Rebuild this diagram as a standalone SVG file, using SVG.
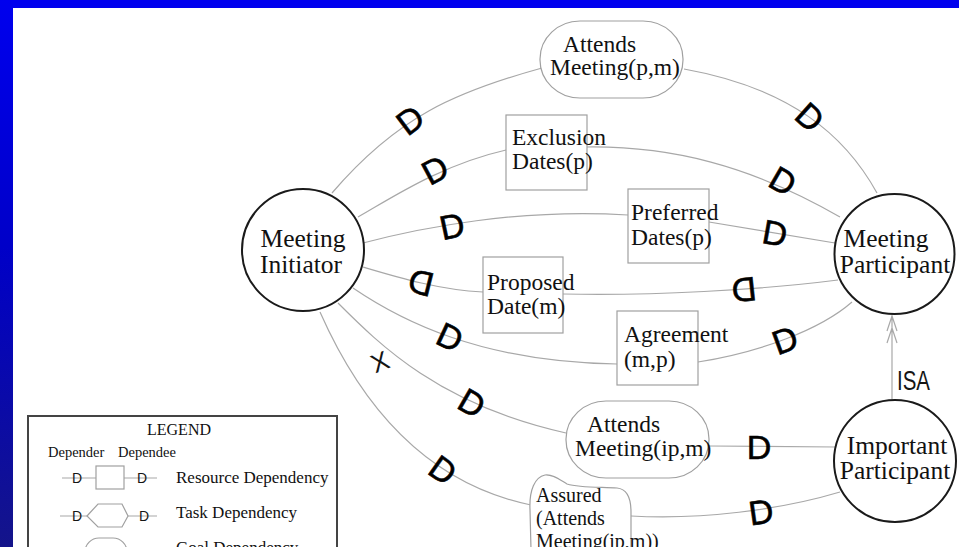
<svg xmlns="http://www.w3.org/2000/svg" width="959" height="547" viewBox="0 0 959 547">
  <defs>
    <linearGradient id="sideBand" x1="0" y1="0" x2="0" y2="1">
      <stop offset="0" stop-color="#0000ee"/>
      <stop offset="0.45" stop-color="#0000c8"/>
      <stop offset="1" stop-color="#14148a"/>
    </linearGradient>
    <style>
      .actor { fill: #ffffff; stroke: #1a1a1a; stroke-width: 2; }
      .elem { fill: #ffffff; stroke: #a0a0a0; stroke-width: 1.2; }
      .link { fill: none; stroke: #a8a8a8; stroke-width: 1.2; }
      .lbl { font-family: "Liberation Serif", "Times New Roman", serif; fill: #111111; }
      .dmark { font-family: "Liberation Sans", Arial, sans-serif; font-size: 34px; fill: #000000; stroke: #000000; stroke-width: 0.6; text-anchor: middle; }
      .sans { font-family: "Liberation Sans", Arial, sans-serif; fill: #151515; }
    </style>
  </defs>

  <!-- page background and frame -->
  <rect x="0" y="0" width="959" height="547" fill="#ffffff"/>
  <rect x="0" y="0" width="959" height="8" fill="#0000ee"/>
  <rect x="0" y="0" width="13" height="547" fill="url(#sideBand)"/>

  <!-- dependency links -->
  <g id="connectors">
    <path class="link" d="M332,193 C397,117 455,92 542,68"/>
    <path class="link" d="M684,69 C790,88 845,135 877,193"/>
    <path class="link" d="M358,217 C390,199 440,165 506,150"/>
    <path class="link" d="M587,147 C670,146 750,165 840,217"/>
    <path class="link" d="M363,243 C420,228 520,208 628,215"/>
    <path class="link" d="M709,222 L835,243"/>
    <path class="link" d="M363,267 C400,278 440,290 483,292"/>
    <path class="link" d="M563,294 C650,296 760,290 838,280"/>
    <path class="link" d="M353,288 C400,320 480,362 617,364"/>
    <path class="link" d="M698,362 C760,352 820,330 852,302"/>
    <path class="link" d="M338,303 C380,345 440,405 566,433"/>
    <path class="link" d="M709,446 L836,447"/>
    <path class="link" d="M320,312 C350,380 410,480 531,505"/>
    <path class="link" d="M631,516 C700,520 780,510 840,492"/>
    <!-- ISA link with open double head -->
    <path class="link" d="M892,399 L892,316 M887,331 L892,316 L897,331 M887,343 L892,328 L897,343"/>

    <!-- dependency markers -->
    <text class="dmark" transform="translate(410,120) rotate(-37)" y="12">D</text>
    <text class="dmark" transform="translate(810,117) rotate(42)" y="12">D</text>
    <text class="dmark" transform="translate(435,170) rotate(-28)" y="12">D</text>
    <text class="dmark" transform="translate(783,181) rotate(30)" y="12">D</text>
    <text class="dmark" transform="translate(452,226) rotate(-12)" y="12">D</text>
    <text class="dmark" transform="translate(775,233) rotate(10)" y="12">D</text>
    <text class="dmark" transform="translate(421,283) rotate(194)" y="12">D</text>
    <text class="dmark" transform="translate(744,290) rotate(174)" y="12">D</text>
    <text class="dmark" transform="translate(450,337) rotate(25)" y="12">D</text>
    <text class="dmark" transform="translate(785,340) rotate(-20)" y="12">D</text>
    <text class="dmark" transform="translate(472,403) rotate(30)" y="12">D</text>
    <text class="dmark" transform="translate(759,447) rotate(0)" y="12">D</text>
    <text class="dmark" transform="translate(443,470) rotate(35)" y="12">D</text>
    <text class="dmark" transform="translate(761,512) rotate(-8)" y="12">D</text>

    <text class="sans" font-size="26" text-anchor="middle" transform="translate(380,362) rotate(-22)" y="9">X</text>
    <text class="sans" font-size="28" x="897" y="390" textLength="33" lengthAdjust="spacingAndGlyphs">ISA</text>
  </g>

  <!-- actors -->
  <g id="meeting-initiator">
    <circle class="actor" cx="303" cy="250" r="61"/>
    <text class="lbl" font-size="25.5" x="303" y="247" text-anchor="middle">Meeting</text>
    <text class="lbl" font-size="25.5" x="301" y="273" text-anchor="middle">Initiator</text>
  </g>
  <g id="meeting-participant">
    <circle class="actor" cx="894.5" cy="254" r="60"/>
    <text class="lbl" font-size="25.5" x="886" y="247" text-anchor="middle">Meeting</text>
    <text class="lbl" font-size="25.5" x="895" y="273" text-anchor="middle">Participant</text>
  </g>
  <g id="important-participant">
    <circle class="actor" cx="895" cy="461" r="61"/>
    <text class="lbl" font-size="25.5" x="897" y="454" text-anchor="middle">Important</text>
    <text class="lbl" font-size="25.5" x="895" y="479" text-anchor="middle">Participant</text>
  </g>

  <!-- dependums -->
  <g id="attends-meeting-pm">
    <rect class="elem" x="540" y="21" width="143" height="77" rx="40" ry="38"/>
    <text class="lbl" font-size="23.5" x="563" y="52">Attends</text>
    <text class="lbl" font-size="23.5" x="550" y="75">Meeting(p,m)</text>
  </g>
  <g id="exclusion-dates">
    <rect class="elem" x="506" y="115" width="81" height="75"/>
    <text class="lbl" font-size="23.5" x="512" y="145">Exclusion</text>
    <text class="lbl" font-size="23.5" x="512" y="169">Dates(p)</text>
  </g>
  <g id="preferred-dates">
    <rect class="elem" x="628" y="189" width="81" height="74"/>
    <text class="lbl" font-size="23.5" x="631" y="220">Preferred</text>
    <text class="lbl" font-size="23.5" x="631" y="245">Dates(p)</text>
  </g>
  <g id="proposed-date">
    <rect class="elem" x="483" y="257" width="80" height="76"/>
    <text class="lbl" font-size="23.5" x="487" y="290">Proposed</text>
    <text class="lbl" font-size="23.5" x="487" y="314">Date(m)</text>
  </g>
  <g id="agreement">
    <rect class="elem" x="617" y="311" width="81" height="74"/>
    <text class="lbl" font-size="23.5" x="624" y="342">Agreement</text>
    <text class="lbl" font-size="23.5" x="624" y="367">(m,p)</text>
  </g>
  <g id="attends-meeting-ipm">
    <rect class="elem" x="566" y="401" width="143" height="77" rx="40" ry="38"/>
    <text class="lbl" font-size="23.5" x="587" y="432">Attends</text>
    <text class="lbl" font-size="23.5" x="575" y="456">Meeting(ip,m)</text>
  </g>
  <g id="assured-attendance">
    <path class="elem" d="M531,549 L530,510 C529,490 535,477 545,475 C553,474 560,480 567,484 C580,488 600,487 617,488 C628,489 631,500 631,512 L631,549"/>
    <text class="lbl" font-size="20" x="536" y="502">Assured</text>
    <text class="lbl" font-size="20" x="536" y="525">(Attends</text>
    <text class="lbl" font-size="20" x="536" y="548">Meeting(ip,m))</text>
  </g>

  <!-- legend -->
  <g id="legend">
    <rect x="28" y="416" width="309" height="145" fill="#ffffff" stroke="#444444" stroke-width="2"/>
    <text class="lbl" font-size="16" x="179" y="435" text-anchor="middle">LEGEND</text>
    <text class="lbl" font-size="14.5" x="48" y="457">Depender</text>
    <text class="lbl" font-size="14.5" x="118" y="457">Dependee</text>

    <path class="link" d="M62,478 L96,478 M124,478 L157,478 M60,516 L87,516 M128,516 L157,516 M60,553 L85,553 M127,553 L157,553"/>
    <rect class="elem" x="96" y="466" width="28" height="23"/>
    <polygon class="elem" points="87,516 98,504 122,504 128,516 122,527 98,527"/>
    <rect class="elem" x="85" y="538" width="42" height="30" rx="14" ry="14"/>

    <text class="sans" font-size="14" x="77" y="483" text-anchor="middle" fill="#000">D</text>
    <text class="sans" font-size="14" x="142" y="483" text-anchor="middle" fill="#000">D</text>
    <text class="sans" font-size="14" x="77" y="521" text-anchor="middle" fill="#000">D</text>
    <text class="sans" font-size="14" x="144" y="521" text-anchor="middle" fill="#000">D</text>
    <text class="sans" font-size="14" x="75" y="558" text-anchor="middle" fill="#000">D</text>
    <text class="sans" font-size="14" x="143" y="558" text-anchor="middle" fill="#000">D</text>

    <text class="lbl" font-size="17" x="176" y="483">Resource Dependency</text>
    <text class="lbl" font-size="17" x="176" y="518">Task Dependency</text>
    <text class="lbl" font-size="17" x="176" y="553">Goal Dependency</text>
  </g>
</svg>
